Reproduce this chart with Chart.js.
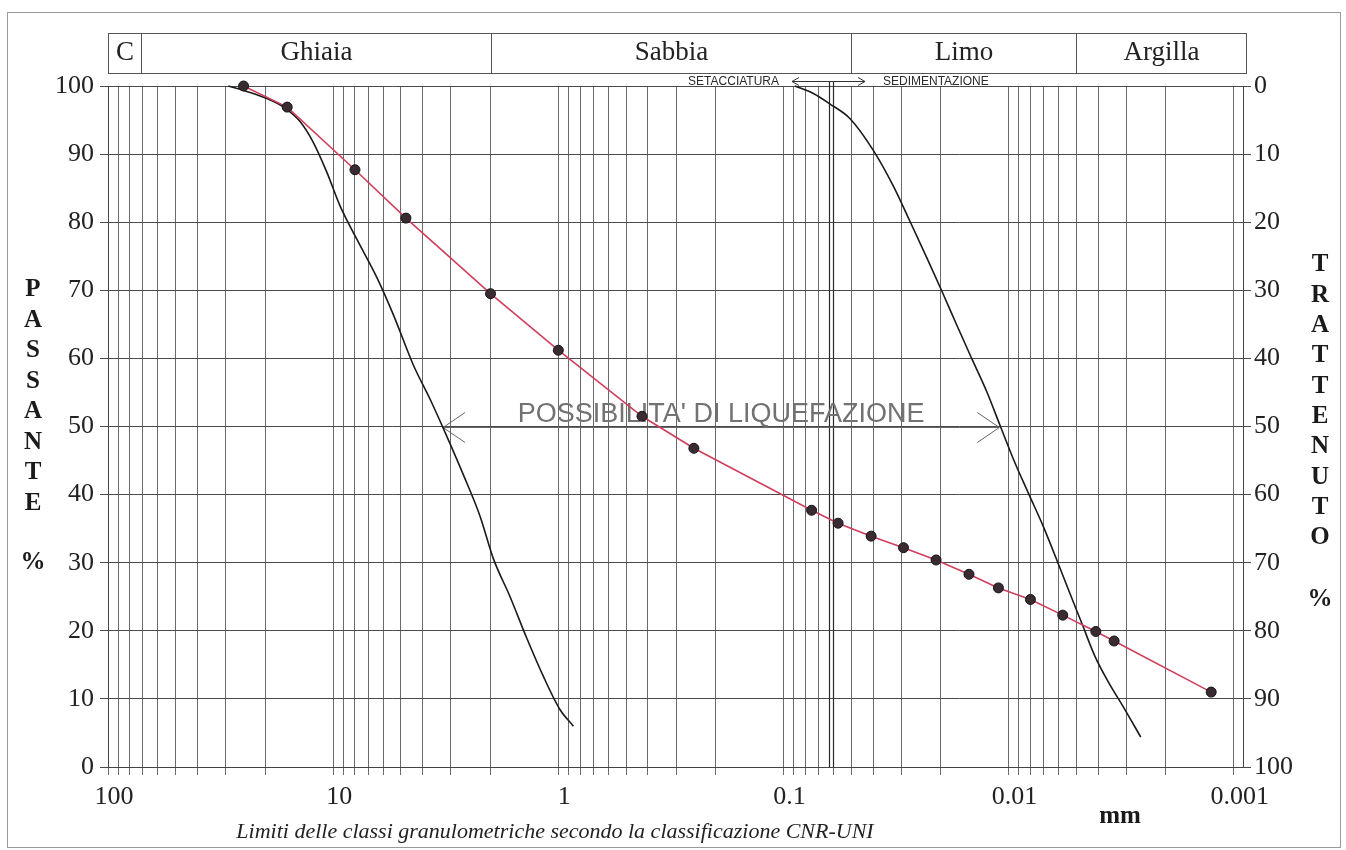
<!DOCTYPE html>
<html>
<head>
<meta charset="utf-8">
<title>Curva granulometrica</title>
<script src="https://cdn.jsdelivr.net/npm/chart.js@4.4.1/dist/chart.umd.min.js"></script>
<style>
  html, body { margin: 0; padding: 0; background: #fff; }
  #wrap { position: relative; width: 1346px; height: 850px; }
</style>
</head>
<body>
<div id="wrap"><canvas id="granChart" width="1346" height="850"></canvas></div>
<script>
// campione: diametro (mm) e passante (%)
const diametri = [25, 16, 8, 4.75, 2, 1, 0.425, 0.25, 0.075, 0.0572, 0.0408, 0.0293, 0.021, 0.015, 0.0111, 0.008, 0.00575, 0.0041, 0.0034, 0.00126];
const passante = [100, 96.9, 87.7, 80.6, 69.5, 61.2, 51.5, 46.8, 37.7, 35.8, 33.9, 32.2, 30.4, 28.3, 26.3, 24.6, 22.3, 19.9, 18.5, 11.0];

// fuso di possibile liquefazione - limite grossolano
const fusoSxDiam = [29.2, 24.2, 19.7, 16.6, 14.0, 12.24, 10.67, 9.32, 7.85, 6.40, 5.40, 4.40, 3.71, 3.18, 2.64, 2.225, 1.943, 1.638, 1.38, 1.165, 0.982, 0.857];
const fusoSxPass = [100, 99.2, 98.15, 96.9, 94.75, 91.7, 87.35, 82.4, 77.5, 71.9, 66.4, 59.0, 54.0, 49.1, 42.9, 36.8, 30.6, 25.0, 18.9, 13.3, 8.4, 6.0];

// fuso di possibile liquefazione - limite fine
const fusoDxDiam = [0.089, 0.0737, 0.0621, 0.0506, 0.0399, 0.0325, 0.0274, 0.0231, 0.0198, 0.0170, 0.01459, 0.0125, 0.0109, 0.00952, 0.00818, 0.00701, 0.00611, 0.00533, 0.00473, 0.00413, 0.00361, 0.00309, 0.00259];
const fusoDxPass = [100, 98.9, 97.35, 95.2, 90.55, 85.3, 80.1, 74.8, 69.9, 64.9, 60.0, 55.1, 50.1, 45.2, 40.25, 35.3, 30.4, 25.4, 21.1, 16.2, 12.5, 8.8, 4.4];

// classi CNR-UNI (mm, inizio di ogni classe)
const classi = ['C', 'Ghiaia', 'Sabbia', 'Limo', 'Argilla'];
const limitiClassi = [100, 71, 2, 0.05, 0.005];

// etichette asse x (decadi)
const xDecadi = [100, 10, 1, 0.1, 0.01, 0.001];
const xEtichette = ['100', '10', '1', '0.1', '0.01', '0.001'];

// linee di separazione setacciatura / sedimentazione (mm)
const limiteSetacci = [0.063, 0.06];
// freccia "possibilita' di liquefazione": estremi in mm, al 50%
const frecciaLiq = [3.25, 0.0110];
const frecciaLiqY = 50;

const serif = '"Liberation Serif", "Times New Roman", serif';
const sans = '"Liberation Sans", Arial, sans-serif';

// griglia logaritmica 1..9 per ogni decade
const xGriglia = [];
[0.001, 0.01, 0.1, 1, 10].forEach(d => {
    for (let m = 1; m <= 9; m++) xGriglia.push(+(m * d).toPrecision(3));
});
xGriglia.push(100);

const toXY = (xs, ys) => xs.map((v, i) => ({ x: v, y: ys[i] }));

function linea(ctx, x1, y1, x2, y2) {
    ctx.beginPath();
    ctx.moveTo(x1, y1);
    ctx.lineTo(x2, y2);
    ctx.stroke();
}

function punta(ctx, xt, yt, dir, len, half) {
    ctx.beginPath();
    ctx.moveTo(xt + dir * len, yt - half);
    ctx.lineTo(xt, yt);
    ctx.lineTo(xt + dir * len, yt + half);
    ctx.stroke();
}

const decorazioni = {
    id: 'decorazioni',
    beforeDatasetsDraw(chart) {
        const { ctx, chartArea: a, scales: { x, y } } = chart;
        ctx.save();

        // doppia linea setacciatura / sedimentazione
        ctx.strokeStyle = '#2a2a2a';
        ctx.lineWidth = 1.2;
        limiteSetacci.forEach(d => {
            const px = Math.round(x.getPixelForValue(d)) + 0.5;
            linea(ctx, px, 81, px, a.bottom);
        });

        // freccia possibilita' di liquefazione
        const yA = Math.round(y.getPixelForValue(frecciaLiqY)) + 0.5;
        const x1 = x.getPixelForValue(frecciaLiq[0]);
        const x2 = x.getPixelForValue(frecciaLiq[1]);
        ctx.strokeStyle = '#666';
        ctx.lineWidth = 1;
        linea(ctx, x1, yA, x2, yA);
        punta(ctx, x1, yA, 1, 22, 15);
        punta(ctx, x2, yA, -1, 22, 15);
        ctx.fillStyle = '#727272';
        ctx.font = '27px ' + sans;
        ctx.textAlign = 'center';
        ctx.textBaseline = 'alphabetic';
        ctx.fillText("POSSIBILITA' DI LIQUEFAZIONE", (x1 + x2) / 2, yA - 6);
        ctx.restore();
    },
    afterDraw(chart) {
        const { ctx, chartArea: a, scales: { x } } = chart;
        ctx.save();

        // cornice esterna
        ctx.strokeStyle = '#9a9a9a';
        ctx.lineWidth = 1;
        ctx.strokeRect(7.5, 12.5, 1333, 835);

        // tabella classi granulometriche
        const top = 33.5, bot = 73.5;
        const bordi = limitiClassi.map(v => Math.round(x.getPixelForValue(v)) + 0.5);
        bordi.push(Math.round(a.right) + 3.5);
        ctx.strokeStyle = '#555';
        ctx.strokeRect(bordi[0], top, bordi[bordi.length - 1] - bordi[0], bot - top);
        for (let i = 1; i < bordi.length - 1; i++) linea(ctx, bordi[i], top, bordi[i], bot);
        ctx.fillStyle = '#222';
        ctx.font = '27px ' + serif;
        ctx.textAlign = 'center';
        ctx.textBaseline = 'middle';
        classi.forEach((c, i) => ctx.fillText(c, (bordi[i] + bordi[i + 1]) / 2, 53));

        // setacciatura <-> sedimentazione
        const xs = Math.round(x.getPixelForValue(limiteSetacci[0]));
        ctx.strokeStyle = '#333';
        linea(ctx, xs - 37, 81.5, xs + 36, 81.5);
        punta(ctx, xs - 37, 81.5, 1, 7, 4);
        punta(ctx, xs + 36, 81.5, -1, 7, 4);
        ctx.font = '12px ' + sans;
        ctx.fillStyle = '#2a2a2a';
        ctx.textAlign = 'right';
        ctx.fillText('SETACCIATURA', xs - 50, 82);
        ctx.textAlign = 'left';
        ctx.fillText('SEDIMENTAZIONE', xs + 54, 82);

        // titoli verticali
        ctx.fillStyle = '#1a1a1a';
        ctx.font = 'bold 25px ' + serif;
        ctx.textAlign = 'center';
        'PASSANTE'.split('').forEach((ch, i) => ctx.fillText(ch, 33, 290 + i * 30.5));
        ctx.fillText('%', 33, 563);
        'TRATTENUTO'.split('').forEach((ch, i) => ctx.fillText(ch, 1320, 265 + i * 30.3));
        ctx.fillText('%', 1320, 600);

        ctx.fillText('mm', 1120, 817);

        ctx.font = 'italic 22px ' + serif;
        ctx.fillStyle = '#222';
        ctx.fillText('Limiti delle classi granulometriche secondo la classificazione CNR-UNI', 555, 832);
        ctx.restore();
    }
};

const etichettaX = v => {
    const i = xDecadi.findIndex(d => Math.abs(d - v) / d < 1e-6);
    return i >= 0 ? xEtichette[i] : '';
};

const curva = {
    showLine: true,
    borderColor: '#1a1a1a',
    borderWidth: 1.6,
    pointRadius: 0,
    cubicInterpolationMode: 'monotone',
    clip: false,
    order: 2
};

new Chart(document.getElementById('granChart').getContext('2d'), {
    type: 'scatter',
    data: {
        datasets: [{
            label: 'Campione',
            data: toXY(diametri, passante),
            showLine: true,
            borderColor: '#cf3f5c',
            borderWidth: 1.6,
            pointRadius: 5,
            pointBackgroundColor: '#3a2a32',
            pointBorderColor: '#151515',
            pointBorderWidth: 1,
            clip: false,
            order: 1
        },
        Object.assign({ label: 'Fuso grossolano', data: toXY(fusoSxDiam, fusoSxPass) }, curva),
        Object.assign({ label: 'Fuso fine', data: toXY(fusoDxDiam, fusoDxPass) }, curva)]
    },
    options: {
        responsive: false,
        animation: false,
        layout: { padding: { top: 86, left: 0, right: 0, bottom: 0 } },
        plugins: {
            legend: { display: false },
            tooltip: { enabled: false }
        },
        scales: {
            x: {
                type: 'logarithmic',
                reverse: true,
                min: 0.00091,
                max: 100,
                afterBuildTicks: s => { s.ticks = xGriglia.map(v => ({ value: v })); },
                afterFit: s => { s.height = 83; },
                grid: { color: '#6a6a6a', lineWidth: 1, tickLength: 8 },
                border: { color: '#444' },
                ticks: {
                    autoSkip: false,
                    maxRotation: 0,
                    labelOffset: 6,
                    padding: 7,
                    color: '#222',
                    font: { family: serif, size: 26 },
                    callback: etichettaX
                }
            },
            y: {
                position: 'left',
                min: 0,
                max: 100,
                afterFit: s => { s.width = 108; },
                grid: { color: '#4a4a4a', lineWidth: 1, tickLength: 8 },
                border: { color: '#444' },
                ticks: {
                    stepSize: 5,
                    padding: 6,
                    color: '#222',
                    font: { family: serif, size: 26 },
                    callback: v => (v % 10 === 0 ? v : '')
                }
            },
            y2: {
                position: 'right',
                reverse: true,
                min: 0,
                max: 100,
                afterFit: s => { s.width = 103; },
                grid: { drawOnChartArea: false, color: '#4a4a4a', tickLength: 8 },
                border: { color: '#444' },
                ticks: {
                    stepSize: 5,
                    padding: 3,
                    color: '#222',
                    font: { family: serif, size: 26 },
                    callback: v => (v % 10 === 0 ? v : '')
                }
            }
        }
    },
    plugins: [decorazioni]
});
</script>
</body>
</html>
